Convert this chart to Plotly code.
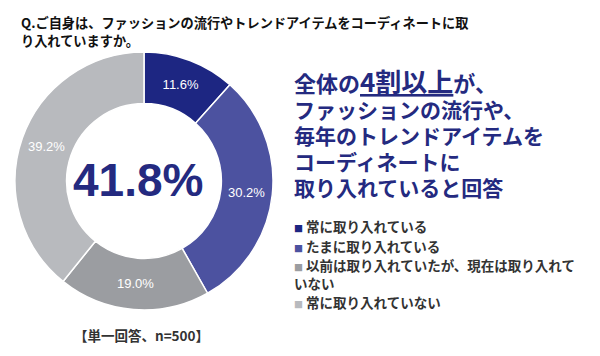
import plotly.graph_objects as go

categories = ["常に取り入れている", "たまに取り入れている",
              "以前は取り入れていたが、現在は取り入れて<br>いない", "常に取り入れていない"]
values = [11.6, 30.2, 19.0, 39.2]
colors = ["#1d2682", "#4c52a0", "#9b9da1", "#b8babe"]
center_value = "41.8%"
title_lines = ["Q.ご自身は、ファッションの流行やトレンドアイテムをコーディネートに取", "り入れていますか。"]
head_lines = ["全体の<span style='font-size:26px'><u>4割以上</u></span>が、",
              "ファッションの流行や、", "毎年のトレンドアイテムを", "コーディネートに", "取り入れていると回答"]
note = "【単一回答、n=500】"

# the page body has an 8px margin; the figure is sized to fill the rest of the window
OFF = 8
W, H = 600 - OFF, 356 - OFF
JP = "Noto Sans CJK JP"
LAT = "Liberation Sans, Arial, sans-serif"
NAVY = "#242a80"


def px(x):
    return (x - OFF) / W


def py(y):
    return 1 - (y - OFF) / H


fig = go.Figure()
fig.add_trace(go.Pie(
    labels=[c.replace("<br>", "") for c in categories],
    values=values,
    text=[f"{v:.1f}%" for v in values],
    textinfo="text",
    textposition="inside",
    insidetextorientation="horizontal",
    textfont=dict(family=LAT, size=13, color="white"),
    marker=dict(colors=colors, line=dict(color="white", width=1.5)),
    hole=0.60,
    sort=False,
    direction="clockwise",
    rotation=0,
    showlegend=False,
    domain=dict(x=[px(15), px(273)], y=[py(310), py(52)]),
    hoverinfo="label+percent",
))

ann = []
# title (line spacing from base size, glyphs at 13px)
ann.append(dict(x=px(19), y=py(11), xanchor="left", yanchor="top", align="left", showarrow=False,
                text="<br>".join(f"<span style='font-size:13.2px'><b>{t}</b></span>" for t in title_lines),
                font=dict(family=JP, size=13.85, color="#111111")))
# center value
ann.append(dict(x=px(138), y=py(180), text=f"<b>{center_value}</b>", xanchor="center", yanchor="middle",
                showarrow=False, font=dict(family=LAT, size=46, color=NAVY)))
# headline
ann.append(dict(x=px(292), y=py(132), xanchor="left", yanchor="middle", align="left", showarrow=False,
                text="<br>".join(
                    (f"<b><span style='font-size:22px'>{t}</span></b>" if i == 0 else
                     f"<b><span style='font-size:21px'>{t}</span></b>")
                    for i, t in enumerate(head_lines)),
                font=dict(family=JP, size=20, color=NAVY)))
# legend
leg_y = [224, 243, 262, 299]
for c, col, yy in zip(categories, colors, leg_y):
    parts = c.split("<br>")
    txt = f"<span style='color:{col};font-size:9px'>■</span> <b>{parts[0]}</b>"
    if len(parts) > 1:
        txt += "<br>" + "".join(f"<b>{p}</b>" for p in parts[1:])
    ann.append(dict(x=px(292), y=py(yy - 9.5), text=txt,
                    xanchor="left", yanchor="top", align="left", showarrow=False,
                    font=dict(family=JP, size=13.5, color="#333333")))
# note
ann.append(dict(x=px(141), y=py(335), text=f"<b>{note}</b>", xanchor="center", yanchor="middle", showarrow=False,
                font=dict(family=JP, size=13.5, color="#333333")))

fig.update_layout(
    width=W, height=H,
    margin=dict(l=0, r=0, t=0, b=0),
    paper_bgcolor="white", plot_bgcolor="white",
    annotations=ann,
)
fig.write_html("out.html")
